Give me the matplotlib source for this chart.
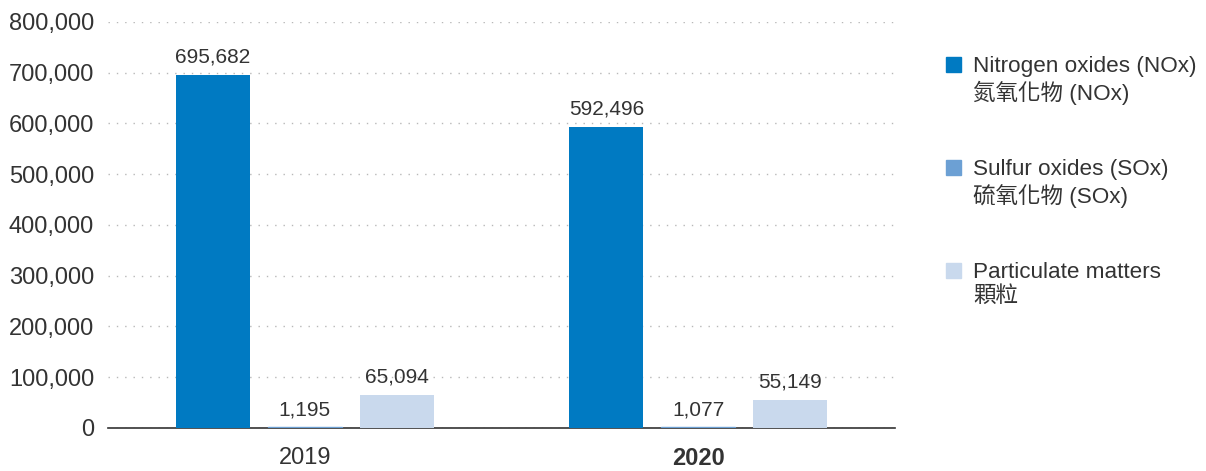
import matplotlib.pyplot as plt
import numpy as np
from matplotlib.patches import Rectangle

# Emissions per year
years = ['2019', '2020']
nox = [695682, 592496]
sox = [1195, 1077]
pm = [65094, 55149]

series_names = ['Nitrogen oxides (NOx)\n氮氧化物 (NOx)',
                'Sulfur oxides (SOx)\n硫氧化物 (SOx)',
                'Particulate matters\n顆粒']
colors = ['#007ac2', '#6ca0d4', '#c9d9ed']

plt.rcParams['font.family'] = ['Liberation Sans', 'Noto Sans CJK TC', 'DejaVu Sans']
text_col = '#333333'

fig = plt.figure(figsize=(12.06, 4.71), dpi=100)
ax = fig.add_axes([0.0896, 0.0913, 0.6524, 0.8620])

x = np.arange(len(years))
pitch = 0.2335
width = 0.188
for i, vals in enumerate([nox, sox, pm]):
    pos = x + (i - 1) * pitch
    ax.bar(pos, vals, width=width, color=colors[i], zorder=3,
           edgecolor=colors[i], linewidth=1.0 if i == 1 else 0)
    for p, v in zip(pos, vals):
        ax.annotate(f'{v:,}', (p, v), xytext=(0, 6), textcoords='offset points',
                    ha='center', va='bottom', fontsize=15, color=text_col)

ax.set_xlim(-0.5, 1.5)
ax.set_ylim(0, 800000)
ax.set_yticks(np.arange(0, 800001, 100000))
ax.set_yticklabels([f'{int(t):,}' for t in ax.get_yticks()])
ax.set_xticks(x)
ax.set_xticklabels(years)
ax.get_xticklabels()[1].set_fontweight('bold')
ax.get_xticklabels()[1].set_color('#111111')
ax.tick_params(axis='y', length=0, pad=10, labelsize=17, labelcolor=text_col)
ax.tick_params(axis='x', length=0, pad=14, labelsize=17, labelcolor=text_col)

ax.grid(axis='y', linestyle=(0, (1, 5)), color='#b8b8b8', linewidth=1, zorder=0)
for s in ['top', 'right', 'left']:
    ax.spines[s].set_visible(False)
ax.spines['bottom'].set_color('#333333')
ax.spines['bottom'].set_linewidth(1.2)
ax.spines['bottom'].set_zorder(2)

# Legend drawn at the right
W, H = 1206, 471
for i, name in enumerate(series_names):
    top = 57 + i * 103
    fig.patches.append(Rectangle((946 / W, 1 - (top + 15) / H), 15 / W, 15 / H,
                                 transform=fig.transFigure, color=colors[i]))
    fig.text(973 / W, 1 - (top - 1) / H, name, ha='left', va='top',
             fontsize=16.2, color=text_col, linespacing=1.2)

fig.savefig('out.png', dpi=100)
